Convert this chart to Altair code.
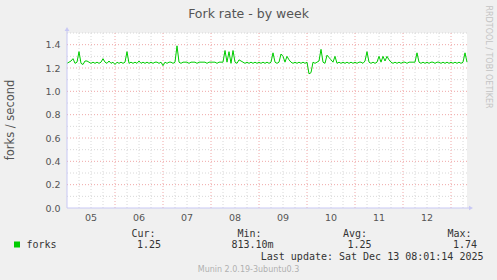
import altair as alt
import pandas as pd

# ---- data (hours since Fri Dec 05 00:00, hourly samples) ----
values = [
    1.24, 1.25, 1.26, 1.28, 1.24, 1.25, 1.34, 1.24, 1.23, 1.26,
    1.26, 1.25, 1.24, 1.25, 1.24, 1.25, 1.24, 1.25, 1.28, 1.25,
    1.24, 1.26, 1.24, 1.25, 1.23, 1.25, 1.24, 1.25, 1.24, 1.25,
    1.34, 1.24, 1.25, 1.24, 1.25, 1.24, 1.26, 1.24, 1.25, 1.24,
    1.25, 1.24, 1.25, 1.24, 1.25, 1.25, 1.24, 1.25, 1.22, 1.25,
    1.24, 1.25, 1.25, 1.24, 1.25, 1.39, 1.25, 1.24, 1.25, 1.25,
    1.25, 1.24, 1.25, 1.25, 1.25, 1.24, 1.25, 1.25, 1.25, 1.25,
    1.24, 1.25, 1.25, 1.25, 1.25, 1.24, 1.25, 1.25, 1.25, 1.35,
    1.25, 1.34, 1.24, 1.35, 1.25, 1.24, 1.27, 1.26, 1.25, 1.24,
    1.25, 1.24, 1.25, 1.24, 1.25, 1.24, 1.25, 1.24, 1.25, 1.24,
    1.25, 1.24, 1.25, 1.33, 1.25, 1.24, 1.25, 1.32, 1.30, 1.25,
    1.30, 1.27, 1.25, 1.24, 1.25, 1.24, 1.25, 1.24, 1.25, 1.24,
    1.25, 1.15, 1.16, 1.25, 1.24, 1.25, 1.26, 1.36, 1.25, 1.24,
    1.31, 1.29, 1.27, 1.25, 1.30, 1.24, 1.25, 1.24, 1.25, 1.24,
    1.25, 1.24, 1.25, 1.24, 1.25, 1.24, 1.25, 1.25, 1.24, 1.26,
    1.34, 1.25, 1.24, 1.25, 1.24, 1.25, 1.30, 1.25, 1.30, 1.26,
    1.30, 1.27, 1.25, 1.24, 1.25, 1.24, 1.25, 1.24, 1.25, 1.25,
    1.24, 1.25, 1.25, 1.25, 1.25, 1.33, 1.25, 1.24, 1.25, 1.24,
    1.25, 1.24, 1.25, 1.25, 1.24, 1.25, 1.25, 1.24, 1.25, 1.24,
    1.25, 1.24, 1.25, 1.24, 1.25, 1.24, 1.25, 1.24, 1.25, 1.33,
    1.25,
]
hours = list(range(len(values)))

day_labels = ["05", "06", "07", "08", "09", "10", "11", "12"]
day_centers = [12 + 24 * i for i in range(len(day_labels))]
midnights = [24 * i for i in range(1, 9)]
six_hours = [h for h in range(6, 200, 6) if h % 24 != 0]
y_major = [0.0, 0.2, 0.4, 0.6, 0.8, 1.0, 1.2, 1.4]
y_minor = [0.1, 0.3, 0.5, 0.7, 0.9, 1.1, 1.3, 1.5]

legend_heads = ["Cur:", "Min:", "Avg:", "Max:"]
legend_vals = ["1.25", "813.10m", "1.25", "1.74"]

W, H = 400, 175
L, T = 67, 33
XD = [0, 200]
YD = [0, 1.5]
xs = alt.Scale(domain=XD, nice=False, zero=False)
ys = alt.Scale(domain=YD, nice=False)

SANS = "DejaVu Sans"
MONO = "DejaVu Sans Mono"

YAX = alt.Axis(
    values=y_major, format=".1f", title=None, grid=False, domain=False, ticks=False,
    labelFont=SANS, labelFontSize=9.5, labelColor="#555555", labelPadding=7)


def df(**kw):
    return pd.DataFrame(kw)


def txt(s, x, y, size, color="#333333", font=SANS, align="left", angle=0):
    return alt.Chart(df(t=[s])).mark_text(
        font=font, fontSize=size, color=color, align=align, baseline="middle", angle=angle
    ).encode(x=alt.value(x - L), y=alt.value(y - T), text="t:N")


hminor = alt.Chart(df(v=y_minor)).mark_rule(color="#d8d8d8", strokeDash=[1, 2], strokeWidth=1).encode(
    y=alt.Y("v:Q", scale=ys, axis=YAX))
hmajor = alt.Chart(df(v=y_major[1:])).mark_rule(color="#f0a8a8", strokeDash=[1, 2], strokeWidth=1).encode(
    y=alt.Y("v:Q", scale=ys, axis=YAX))
vminor = alt.Chart(df(h=six_hours)).mark_rule(color="#d8d8d8", strokeDash=[1, 2], strokeWidth=1).encode(
    x=alt.X("h:Q", scale=xs, axis=None))
vmajor = alt.Chart(df(h=midnights)).mark_rule(color="#f0a8a8", strokeDash=[1, 2], strokeWidth=1).encode(
    x=alt.X("h:Q", scale=xs, axis=None))

line = alt.Chart(df(h=hours, v=values)).mark_line(color="#00cc00", strokeWidth=1, interpolate="linear").encode(
    x=alt.X("h:Q", scale=xs, axis=None),
    y=alt.Y("v:Q", scale=ys, axis=YAX),
)

axis_color = "#c8c8f4"
xaxis = alt.Chart(df(a=[0])).mark_rule(color=axis_color, strokeWidth=1).encode(
    x=alt.value(0), x2=alt.value(W + 3), y=alt.value(H))
yaxis = alt.Chart(df(a=[0])).mark_rule(color=axis_color, strokeWidth=1).encode(
    x=alt.value(0), y=alt.value(-3), y2=alt.value(H))
xarrow = alt.Chart(df(a=[0])).mark_point(shape="triangle-right", filled=True, color=axis_color, size=22, opacity=1).encode(
    x=alt.value(W + 4), y=alt.value(H))
yarrow = alt.Chart(df(a=[0])).mark_point(shape="triangle-up", filled=True, color=axis_color, size=22, opacity=1).encode(
    x=alt.value(0), y=alt.value(-4))

days = alt.Chart(df(h=day_centers, d=day_labels)).mark_text(
    font=SANS, fontSize=9.5, color="#555555", baseline="middle").encode(
    x=alt.X("h:Q", scale=xs, axis=None), y=alt.value(217.5 - T), text="d:N")

layers = [hminor, hmajor, vminor, vmajor, line, xaxis, yaxis, xarrow, yarrow, days]

layers.append(txt("Fork rate - by week", 248.5, 14, 12.5, "#555555", align="center"))
layers.append(txt("forks / second", 10.5, 120, 11.5, "#555555", align="center", angle=270))
layers.append(txt("RRDTOOL / TOBI OETIKER", 488, 57, 8, "#c4c4c4", align="center", angle=90))

# legend
sq = alt.Chart(df(a=[0])).mark_square(color="#00cc00", size=36, filled=True, opacity=1).encode(
    x=alt.value(17 - L), y=alt.value(244.5 - T))
layers.append(sq)
layers.append(txt("forks", 26.5, 244.5, 10, "#333333", font=MONO))
head_x = [131.5, 237.5, 343, 447.5]
val_x = [137, 231.5, 347.5, 453]
for hx, hs in zip(head_x, legend_heads):
    layers.append(txt(hs, hx, 233.5, 10, "#333333", font=MONO))
for vx, vs in zip(val_x, legend_vals):
    layers.append(txt(vs, vx, 244.5, 10, "#333333", font=MONO))
layers.append(txt("Last update: Sat Dec 13 08:01:14 2025", 483.5, 256.5, 10, "#333333", font=MONO, align="right"))
layers.append(txt("Munin 2.0.19-3ubuntu0.3", 248.5, 269.5, 8, "#b0b0b0", align="center"))

chart = alt.layer(*layers).properties(
    width=W, height=H,
    padding={"left": L, "top": T, "right": 497 - L - W, "bottom": 280 - T - H},
    autosize=alt.AutoSizeParams(type="none"),
    background="#f0f0f0",
).configure_view(fill="white", stroke=None, clip=False)

chart.save("out.html", embed_options={"renderer": "svg", "actions": False})
